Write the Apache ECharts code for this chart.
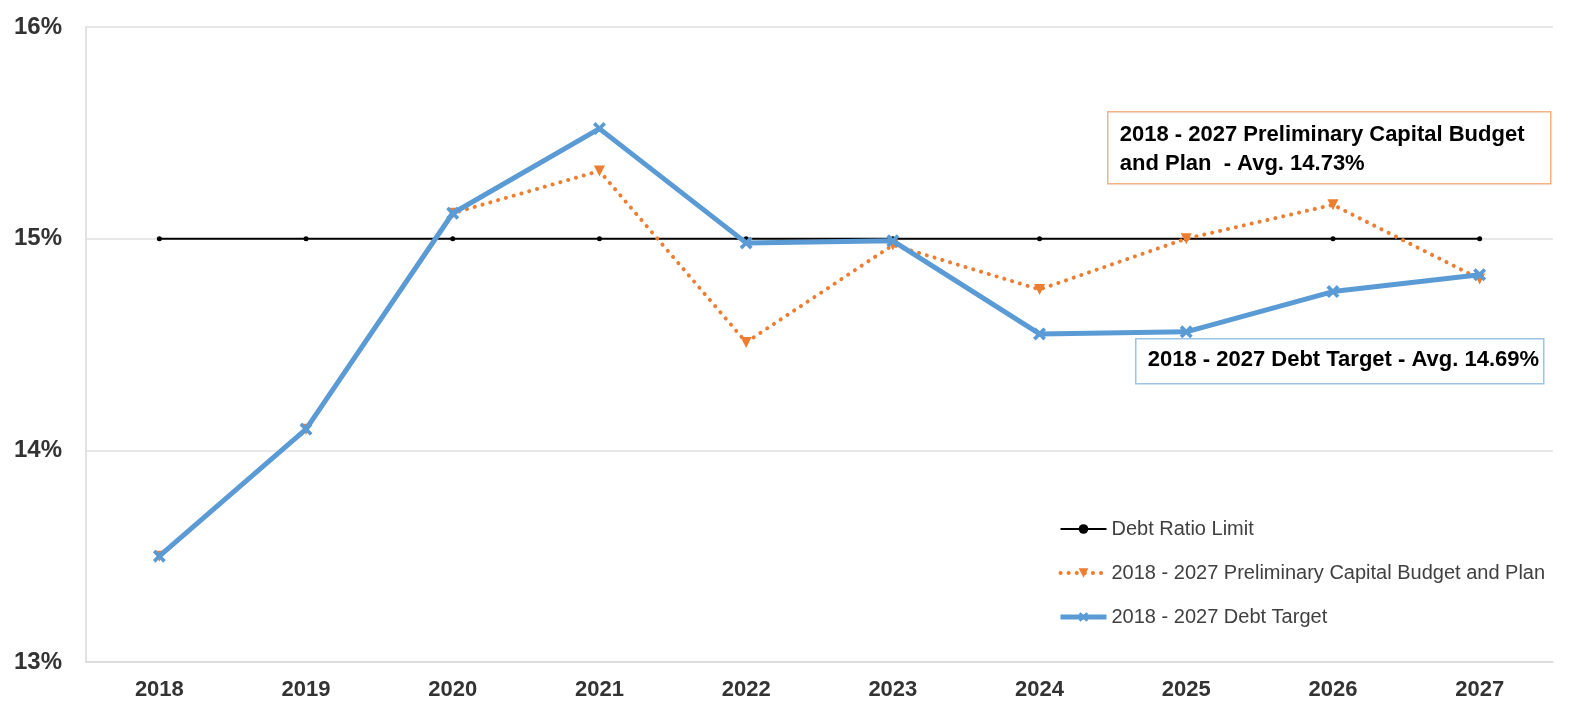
<!DOCTYPE html>
<html>
<head>
<meta charset="utf-8">
<script src="https://cdn.jsdelivr.net/npm/echarts@6/dist/echarts.min.js"></script>
<style>
  html, body { margin: 0; padding: 0; background: #ffffff; }
  #chart { width: 1573px; height: 713px; }
</style>
</head>
<body>
<div id="chart"></div>
<script>
// Datos del gráfico
const years = ['2018', '2019', '2020', '2021', '2022', '2023', '2024', '2025', '2026', '2027'];
const debtRatioLimit = [15, 15, 15, 15, 15, 15, 15, 15, 15, 15];
const preliminaryPlan = [13.50, 14.10, 15.12, 15.32, 14.51, 14.97, 14.76, 15.00, 15.16, 14.81];
const debtTarget = [13.50, 14.10, 15.12, 15.52, 14.98, 14.99, 14.55, 14.56, 14.75, 14.83];
const yTicks = [13, 14, 15, 16];

const FONT = "'Liberation Sans Narrow', 'Liberation Sans', Arial, sans-serif";
const X_MARK = 'path://M0,2 L2,0 L5,3 L8,0 L10,2 L7,5 L10,8 L8,10 L5,7 L2,10 L0,8 L3,5 Z';

const chart = echarts.init(document.getElementById('chart'));

chart.setOption({
    backgroundColor: '#ffffff',
    animation: false,
    grid: { left: 86, right: 20, top: 27, bottom: 51 },
    legend: {
        orient: 'vertical',
        left: 1053,
        top: 514,
        itemWidth: 46,
        itemHeight: 12,
        itemGap: 24,
        textStyle: { fontFamily: FONT, fontSize: 20, color: '#404040' },
        data: [
            { name: 'Debt Ratio Limit', lineStyle: { width: 2 } },
            { name: '2018 - 2027 Preliminary Capital Budget and Plan', lineStyle: { width: 4 } },
            { name: '2018 - 2027 Debt Target', lineStyle: { width: 5 } }
        ]
    },
    xAxis: {
        type: 'category',
        data: years,
        boundaryGap: true,
        axisLine: { lineStyle: { color: '#d9d9d9', width: 1.5 } },
        axisTick: { show: false },
        axisLabel: {
            margin: 17,
            fontFamily: FONT,
            fontSize: 22,
            fontWeight: 'bold',
            color: '#333333'
        }
    },
    yAxis: {
        type: 'value',
        min: yTicks[0],
        max: yTicks[yTicks.length - 1],
        interval: 1,
        axisLine: { show: true, lineStyle: { color: '#d9d9d9', width: 1.5 } },
        axisTick: { show: false },
        splitLine: { lineStyle: { color: '#e0e0e0', width: 1.5 } },
        axisLabel: {
            margin: 24,
            formatter: '{value}%',
            fontFamily: FONT,
            fontSize: 24,
            fontWeight: 'bold',
            color: '#333333'
        }
    },
    series: [
        {
            name: 'Debt Ratio Limit',
            type: 'line',
            data: debtRatioLimit,
            symbol: 'circle',
            symbolSize: 5,
            lineStyle: { color: '#000000', width: 2 },
            itemStyle: { color: '#000000' },
            z: 2
        },
        {
            name: '2018 - 2027 Preliminary Capital Budget and Plan',
            type: 'line',
            data: preliminaryPlan,
            symbol: 'triangle',
            symbolRotate: 180,
            symbolSize: 11,
            lineStyle: { color: '#ED7D31', width: 4, type: [0.1, 8], cap: 'round' },
            itemStyle: { color: '#ED7D31' },
            z: 3
        },
        {
            name: '2018 - 2027 Debt Target',
            type: 'line',
            data: debtTarget,
            symbol: X_MARK,
            symbolSize: 13,
            lineStyle: { color: '#5B9BD5', width: 5 },
            itemStyle: { color: '#5B9BD5' },
            z: 4
        }
    ],
    graphic: [
        {
            type: 'group',
            left: 1107,
            top: 111,
            children: [
                {
                    type: 'rect',
                    shape: { x: 0, y: 0, width: 443, height: 72 },
                    style: { fill: '#ffffff', stroke: '#F4B183', lineWidth: 1.5 }
                },
                {
                    type: 'text',
                    left: 12,
                    top: 9,
                    style: {
                        text: '2018 - 2027 Preliminary Capital Budget\nand Plan  - Avg. 14.73%',
                        font: "bold 22px " + FONT,
                        lineHeight: 29,
                        fill: '#000000'
                    }
                }
            ]
        },
        {
            type: 'group',
            left: 1135,
            top: 338,
            children: [
                {
                    type: 'rect',
                    shape: { x: 0, y: 0, width: 408, height: 45 },
                    style: { fill: '#ffffff', stroke: '#9DC3E6', lineWidth: 1.5 }
                },
                {
                    type: 'text',
                    left: 12,
                    top: 10,
                    style: {
                        text: '2018 - 2027 Debt Target - Avg. 14.69%',
                        font: "bold 22px " + FONT,
                        fill: '#000000'
                    }
                }
            ]
        }
    ]
});

window.addEventListener('resize', () => chart.resize());
</script>
</body>
</html>
